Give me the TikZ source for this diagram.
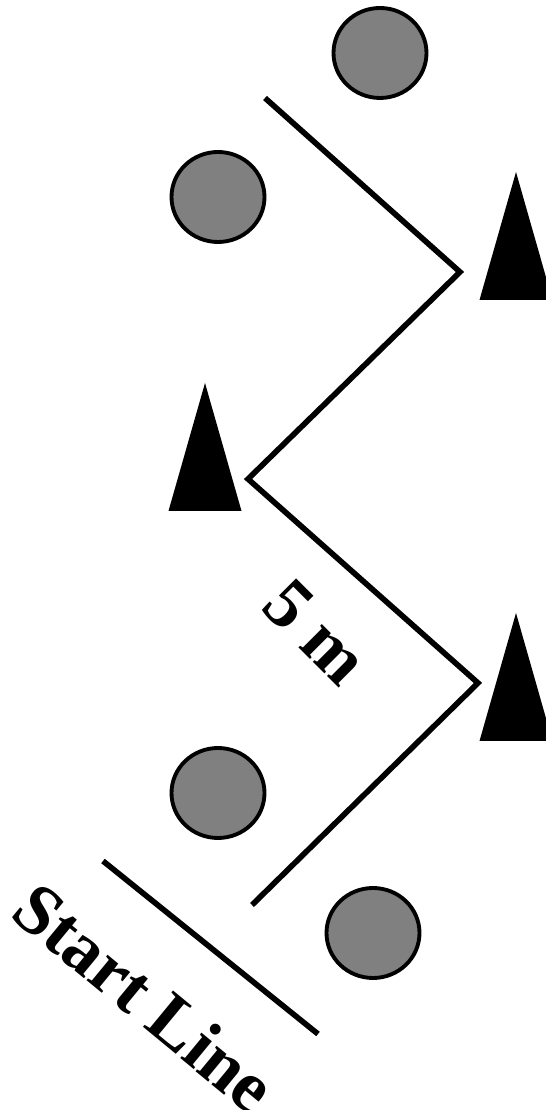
\documentclass[tikz,border=0pt]{standalone}
\usepackage{fontspec}
\setmainfont{Liberation Serif}
\usepackage{tikz}
\usetikzlibrary{positioning, calc, shapes.geometric}

\begin{document}
\begin{tikzpicture}[
  ball/.style={ellipse, draw, line width=2.2pt, fill=gray, minimum width=1.86cm, minimum height=1.8cm, inner sep=0pt},
  route/.style={line width=3.2pt, line join=miter},
  label/.style={font=\fontsize{41}{45}\selectfont\bfseries, inner sep=0pt}
]
\useasboundingbox (0,0) rectangle (10.92,22.2);

% Balls
\node[ball] (b1) at (7.6, 21.14) {};
\node[ball] (b2) at (4.36, 18.26) {};
\node[ball] (b3) at (4.36, 6.34) {};
\node[ball] (b4) at (7.46, 3.54) {};

% Cones
\foreach \x/\y in {10.32/18.76, 4.1/14.54, 10.32/9.94}
  \fill (\x,\y) -- ++(-0.73,-2.56) -- ++(1.46,0) -- cycle;

% Route
\coordinate (p0) at (5.3, 20.24);
\coordinate (p1) at (9.2, 16.76);
\coordinate (p2) at (4.96, 12.62);
\coordinate (p3) at (9.56, 8.54);
\coordinate (p4) at (5.04, 4.1);
\draw[route] (p0) -- (p1) -- (p2) -- (p3) -- (p4);

% Start line
\coordinate (s0) at (2.06, 4.98);
\coordinate (s1) at (6.36, 1.52);
\draw[route] (s0) -- (s1);

% Labels
\node[label, rotate=-45] (dist) at (6.32, 9.56) {5 m};
\node[label, rotate=-39.5] (start) at (2.9, 2.26) {Start Line};

\end{tikzpicture}
\end{document}
